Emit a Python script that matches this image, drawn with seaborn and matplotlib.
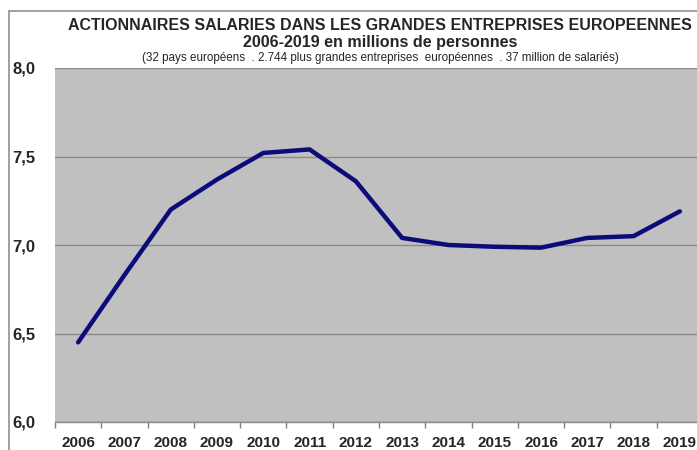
import matplotlib
matplotlib.use("Agg")
import matplotlib.pyplot as plt
import seaborn as sns
import pandas as pd
import numpy as np
from matplotlib.lines import Line2D
from matplotlib.ticker import FixedLocator

years = [2006, 2007, 2008, 2009, 2010, 2011, 2012, 2013, 2014, 2015, 2016, 2017, 2018, 2019]
values = [6.45, 6.83, 7.20, 7.37, 7.52, 7.54, 7.36, 7.04, 7.00, 6.99, 6.985, 7.04, 7.05, 7.19]
ytick_vals = [6.0, 6.5, 7.0, 7.5, 8.0]
ytick_labels = ["6,0", "6,5", "7,0", "7,5", "8,0"]

title1 = "ACTIONNAIRES SALARIES DANS LES GRANDES ENTREPRISES EUROPEENNES"
title2 = "2006-2019 en millions de personnes"
title3 = "(32 pays européens  . 2.744 plus grandes entreprises  européennes  . 37 million de salariés)"

sns.set_style("white")
plt.rcParams['font.family'] = ['Liberation Sans', 'DejaVu Sans']

df = pd.DataFrame({"year": years, "value": values})

fig = plt.figure(figsize=(6.97, 4.5), dpi=100)
ax = fig.add_axes([55/697, 28/450, 648/697, 354/450])
ax.set_facecolor("#c0c0c0")

sns.lineplot(data=df, x="year", y="value", ax=ax, color="#0b0b7a", linewidth=3.2, zorder=3)

ax.set_xlim(2005.5, 2019.5)
ax.set_ylim(6.0, 8.0)
ax.set_yticks(ytick_vals)
ax.set_yticklabels(ytick_labels, fontsize=12, fontweight="bold")
ax.set_xticks(years)
ax.set_xticklabels([str(y) for y in years], fontsize=11, fontweight="bold")
ax.xaxis.set_minor_locator(FixedLocator([y + 0.5 for y in [2005] + years]))
ax.tick_params(axis="x", which="major", length=0, pad=10)
ax.tick_params(axis="x", which="minor", length=4, color="#808080", width=1, bottom=True)
ax.tick_params(axis="y", length=0, pad=14)
ax.grid(axis="y", color="#8a8a8a", linewidth=1)
ax.set_axisbelow(True)
for s in ["top", "right", "left"]:
    ax.spines[s].set_visible(False)
ax.spines["bottom"].set_color("#8a8a8a")
ax.spines["bottom"].set_linewidth(1)
ax.set_xlabel("")
ax.set_ylabel("")

fig.text(380/697, 1 - 25/450, title1, ha="center", va="center", fontsize=11.55, fontweight="bold")
fig.text(380/697, 1 - 43/450, title2, ha="center", va="center", fontsize=11.6, fontweight="bold")
fig.text(380/697, 1 - 58/450, title3, ha="center", va="center", fontsize=8.4)

# outer chart border (partially cropped)
fig.add_artist(Line2D([9/697, 9/697], [0, 1 - 11/450], transform=fig.transFigure, color="#909090", linewidth=1.2))
fig.add_artist(Line2D([9/697, 1], [1 - 11/450, 1 - 11/450], transform=fig.transFigure, color="#909090", linewidth=1.2))

fig.savefig("out.png", dpi=100)
